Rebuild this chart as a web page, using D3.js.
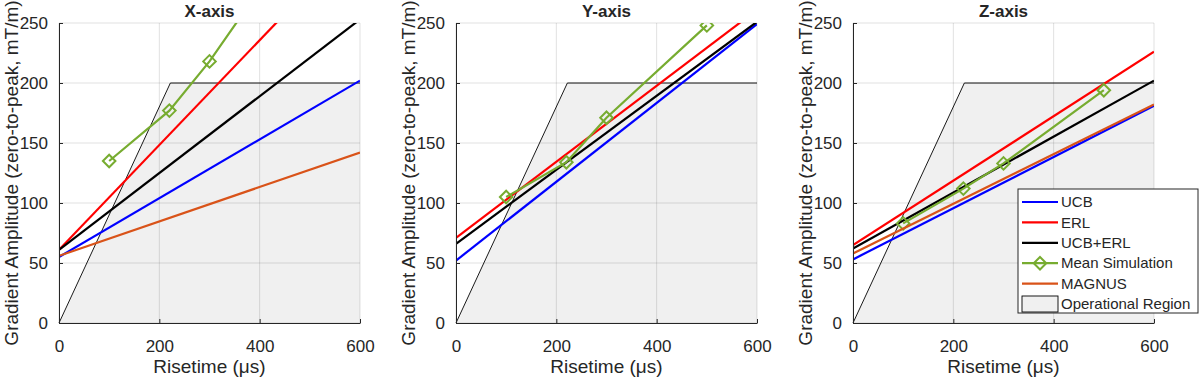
<!DOCTYPE html>
<html>
<head>
<meta charset="utf-8">
<script src="https://cdn.jsdelivr.net/npm/d3@7"></script>
<style>
  body { margin: 0; background: #fff; }
  text { font-family: Arial, "Liberation Sans", sans-serif; fill: #262626; }
</style>
</head>
<body>
<div id="chart"></div>
<script>
/***********************************************************************/
//chart values
const panelTitles = ['X-axis', 'Y-axis', 'Z-axis'];
const riseTime = [0, 600];               //risetime at the two ends of each fitted line
const ucb = [[55, 202], [52, 249], [53, 181]];
const erl = [[61, 323], [71, 261], [65, 226]];
const ucbErl = [[61, 253], [66, 251], [62, 202]];
const magnus = [[56, 142], null, [58, 182]];
const simTimes = [100, 220, 300, 500];
const simMean = [[135, 177, 218, 338], [105, 134, 171, 248], [83, 112, 133, 194]];
const opTimes = [0, 222, 600, 600];
const opAmps = [0, 200, 200, 0];
const xTicks = [0, 200, 400, 600];
const yTicks = [0, 50, 100, 150, 200, 250];
const legendLabels = ['UCB', 'ERL', 'UCB+ERL', 'Mean Simulation', 'MAGNUS', 'Operational Region'];

/***********************************************************************/
//static svg variables
var svgWidth = 1200;
var svgHeight = 380;
var panelLeft = [59, 456, 853];
var plotWidth = 301;
var plotTop = 23;
var plotHeight = 300;

var colors = {
  ucb: '#0000ff',
  erl: '#ff0000',
  ucbErl: '#000000',
  sim: '#77ac30',
  magnus: '#d95319'
};

var svg = d3.select('#chart')
  .append('svg')
  .attr('width', svgWidth)
  .attr('height', svgHeight);

var xScale = d3.scaleLinear().domain([0, 600]).range([0, plotWidth]);
var yScale = d3.scaleLinear().domain([0, 250]).range([plotHeight, 0]);

var line = d3.line()
  .x(d => xScale(d[0]))
  .y(d => yScale(d[1]));

/***********************************************************************/
//draw one panel
function drawPanel(i) {
  var g = svg.append('g')
    .attr('transform', `translate(${panelLeft[i]}, ${plotTop})`);

  g.append('clipPath').attr('id', 'clip' + i)
    .append('rect')
    .attr('width', plotWidth)
    .attr('height', plotHeight);

  //operational region
  var region = opTimes.map((t, k) => [t, opAmps[k]]);
  g.append('path')
    .attr('d', line(region))
    .attr('fill', '#f0f0f0')
    .attr('stroke', 'none');

  //grid
  g.selectAll('.gx').data(xTicks).enter().append('line')
    .attr('x1', d => xScale(d)).attr('x2', d => xScale(d))
    .attr('y1', 0).attr('y2', plotHeight)
    .attr('stroke', '#000').attr('stroke-opacity', 0.12);
  g.selectAll('.gy').data(yTicks).enter().append('line')
    .attr('x1', 0).attr('x2', plotWidth)
    .attr('y1', d => yScale(d)).attr('y2', d => yScale(d))
    .attr('stroke', '#000').attr('stroke-opacity', 0.12);

  //region outline (open edge at right side)
  g.append('path')
    .attr('d', line(region.slice(0, 3)))
    .attr('fill', 'none')
    .attr('stroke', '#000')
    .attr('stroke-width', 0.9);

  var lines = g.append('g').attr('clip-path', `url(#clip${i})`);

  function fitLine(vals, color) {
    if (!vals) return;
    lines.append('path')
      .attr('d', line(riseTime.map((t, k) => [t, vals[k]])))
      .attr('fill', 'none')
      .attr('stroke', color)
      .attr('stroke-width', 2.2);
  }

  fitLine(ucb[i], colors.ucb);
  fitLine(erl[i], colors.erl);
  fitLine(ucbErl[i], colors.ucbErl);

  var sim = simTimes.map((t, k) => [t, simMean[i][k]]);
  lines.append('path')
    .attr('d', line(sim))
    .attr('fill', 'none')
    .attr('stroke', colors.sim)
    .attr('stroke-width', 2.2);
  lines.selectAll('.marker').data(sim).enter().append('path')
    .attr('d', d3.symbol(d3.symbolDiamond2, 100))
    .attr('transform', d => `translate(${xScale(d[0])}, ${yScale(d[1])})`)
    .attr('fill', 'none')
    .attr('stroke', colors.sim)
    .attr('stroke-width', 2);

  fitLine(magnus[i], colors.magnus);

  //axes
  var xAxis = d3.axisBottom(xScale).tickValues(xTicks).tickSizeInner(-4).tickSizeOuter(0).tickPadding(17);
  var yAxis = d3.axisLeft(yScale).tickValues(yTicks).tickSizeInner(-4).tickSizeOuter(0).tickPadding(11);

  var gx = g.append('g').attr('transform', `translate(0, ${plotHeight})`).call(xAxis);
  var gy = g.append('g').call(yAxis);
  [gx, gy].forEach(a => {
    a.select('.domain').attr('stroke', '#262626');
    a.selectAll('line').attr('stroke', '#262626');
    a.selectAll('text').attr('font-size', 17).attr('fill', '#262626')
      .style('font-family', 'Arial, "Liberation Sans", sans-serif');
  });

  //titles and labels
  g.append('text')
    .attr('x', plotWidth / 2)
    .attr('y', -6)
    .attr('text-anchor', 'middle')
    .attr('font-size', 17)
    .attr('font-weight', 'bold')
    .attr('fill', '#000')
    .text(panelTitles[i]);

  g.append('text')
    .attr('x', plotWidth / 2)
    .attr('y', plotHeight + 50)
    .attr('text-anchor', 'middle')
    .attr('font-size', 19)
    .text('Risetime (μs)');

  g.append('text')
    .attr('transform', `translate(-41, ${plotHeight / 2}) rotate(-90)`)
    .attr('text-anchor', 'middle')
    .attr('font-size', 19)
    .text('Gradient Amplitude (zero-to-peak, mT/m)');

  return g;
}

var panels = panelTitles.map((t, i) => drawPanel(i));

/***********************************************************************/
//legend in the last panel
var lg = panels[2].append('g').attr('transform', `translate(${plotWidth - 136}, 166)`);
lg.append('rect')
  .attr('width', 180)
  .attr('height', 124)
  .attr('fill', '#fff')
  .attr('stroke', '#262626')
  .attr('stroke-width', 1);

var legendColors = [colors.ucb, colors.erl, colors.ucbErl, colors.sim, colors.magnus, null];
legendLabels.forEach((label, k) => {
  var cy = 13 + k * 20.4;
  if (legendColors[k]) {
    lg.append('line')
      .attr('x1', 4).attr('x2', 40)
      .attr('y1', cy).attr('y2', cy)
      .attr('stroke', legendColors[k])
      .attr('stroke-width', 2.2);
    if (k === 3) {
      lg.append('path')
        .attr('d', d3.symbol(d3.symbolDiamond2, 100))
        .attr('transform', `translate(22, ${cy})`)
        .attr('fill', 'none')
        .attr('stroke', colors.sim)
        .attr('stroke-width', 2);
    }
  } else {
    lg.append('rect')
      .attr('x', 4).attr('y', cy - 8)
      .attr('width', 36).attr('height', 16)
      .attr('fill', '#f0f0f0')
      .attr('stroke', '#000')
      .attr('stroke-width', 0.9);
  }
  lg.append('text')
    .attr('x', 43)
    .attr('y', cy)
    .attr('dy', '0.35em')
    .attr('font-size', 15)
    .attr('fill', '#000')
    .text(label);
});
</script>
</body>
</html>
